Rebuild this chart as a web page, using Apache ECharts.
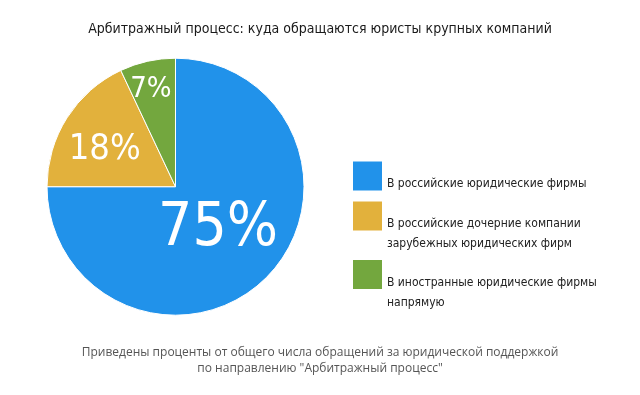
<!DOCTYPE html>
<html><head><meta charset="utf-8">
<script src="https://cdn.jsdelivr.net/npm/echarts@6/dist/echarts.min.js"></script>
<style>html,body{margin:0;padding:0;background:#fff}#c{width:640px;height:395px}</style>
</head><body><div id="c"></div>
<script>
const titleText = 'Арбитражный процесс: куда обращаются юристы крупных компаний';
const footerText = 'Приведены проценты от общего числа обращений за юридической поддержкой\nпо направлению "Арбитражный процесс"';
const categories = ['В российские юридические фирмы', 'В российские дочерние компании\nзарубежных юридических фирм', 'В иностранные юридические фирмы\nнапрямую'];
const values = [75, 18, 7];
const colors = ['#2192EA', '#E2B13C', '#73A73E'];

const NARROW = '"DejaVu Sans Condensed", "Liberation Sans Narrow", sans-serif';
const labelCfg = [
  {fontSize: 60, offset: [-5, -5]},
  {fontSize: 36, offset: [-14, -1]},
  {fontSize: 29, offset: [-10, -32]}
];
const legendCfg = [
  {top: 161, pad: 15},
  {top: 191, pad: 35},
  {top: 249.5, pad: 36}
];

function legendText(name) {
  return '{s| }\n' + name.split('\n').map(l => '{t|' + l + '}').join('\n');
}

const chart = echarts.init(document.getElementById('c'), null, {renderer: 'canvas'});
chart.setOption({
  animation: false,
  title: {
    text: titleText, left: 'center', top: 17,
    textStyle: {fontFamily: NARROW, fontSize: 14, fontWeight: 'normal', color: '#1a1a1a'}
  },
  graphic: [{
    type: 'text', left: 'center', top: 345,
    style: {text: footerText, fontFamily: '"Open Sans", sans-serif', fontSize: 12, fontWeight: 'normal',
      lineHeight: 16, fill: '#555', textAlign: 'center'}
  }],
  legend: categories.map((c, i) => ({
    orient: 'vertical', left: 353, top: legendCfg[i].top, padding: 0,
    itemWidth: 29, itemHeight: 29, selectedMode: false,
    icon: 'rect',
    itemStyle: {borderWidth: 0},
    data: [c],
    formatter: n => legendText(n),
    textStyle: {
      fontFamily: NARROW, fontSize: 12, color: '#222',
      rich: {
        s: {lineHeight: legendCfg[i].pad, fontSize: 10},
        t: {lineHeight: 20, fontFamily: NARROW, fontSize: 12, color: '#222'}
      }
    }
  })),
  series: [{
    type: 'pie',
    center: [175.5, 186.7],
    radius: [0, 128.5],
    startAngle: 90,
    clockwise: true,
    avoidLabelOverlap: false,
    itemStyle: {borderColor: '#fff', borderWidth: 1},
    emphasis: {disabled: true},
    label: {show: true, position: 'inside', color: '#fff', fontFamily: NARROW, formatter: '{c}%'},
    labelLine: {show: false},
    data: categories.map((c, i) => ({
      name: c, value: values[i],
      itemStyle: {color: colors[i]},
      label: {fontSize: labelCfg[i].fontSize, offset: labelCfg[i].offset}
    }))
  }]
});
</script></body></html>
